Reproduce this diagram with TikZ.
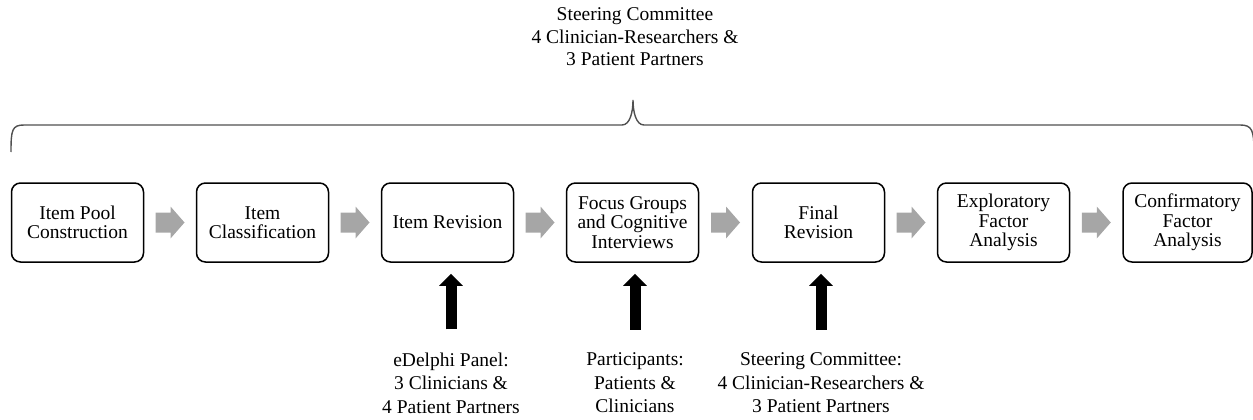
\documentclass[tikz,border=0pt]{standalone}
\usepackage{fontspec}
\setmainfont{Liberation Serif}
\usetikzlibrary{arrows.meta,calc}
\definecolor{arrowgray}{HTML}{A6A6A6}
\definecolor{bracegray}{HTML}{505050}
\tikzset{
  stepbox/.style={draw=black, line width=1.5pt, rounded corners=9pt, minimum width=132pt, minimum height=79pt, inner sep=2pt, align=center, font=\fontsize{19.5}{19.5}\selectfont},
  labeltext/.style={align=center, inner sep=0pt, font=\fontsize{19.5}{23.5}\selectfont},
  toptext/.style={align=center, inner sep=0pt, font=\fontsize{19.5}{22.5}\selectfont},
  bigarrow/.style={line width=11pt, -{Triangle[width=23pt,length=12pt]}, shorten <=23pt, shorten >=11pt},
  bracepath/.style={draw=bracegray, line width=1.4pt},
  grayarrow/.pic={\fill[arrowgray] (-14.5,-10) -- (0.5,-10) -- (0.5,-16) -- (14.5,0) -- (0.5,16) -- (0.5,10) -- (-14.5,10) -- cycle;}
}
\begin{document}
\begin{tikzpicture}[x=1pt,y=-1pt]
\useasboundingbox (0,0) rectangle (1253,420);
% top label and brace
\node[toptext] (top) at (635,37) {Steering Committee\\4 Clinician-Researchers \&\\3 Patient Partners};
\draw[bracepath] (11,152) .. controls (11,130) and (12,125) .. (24,125) -- (622,125)
  .. controls (630,125) and (633,112) .. (633,100)
  .. controls (633,112) and (636,125) .. (644,125) -- (1240,125)
  .. controls (1252,125) and (1254,130) .. (1254,152);
% boxes
\node[stepbox] (b1) at (77.5,222.5) {Item Pool\\Construction};
\node[stepbox] (b2) at (262.5,222.5) {Item\\Classification};
\node[stepbox] (b3) at (447.5,222.5) {Item Revision};
\node[stepbox] (b4) at (632.5,222.5) {Focus Groups\\and Cognitive\\Interviews};
\node[stepbox] (b5) at (818.5,222.5) {Final\\Revision};
\node[stepbox] (b6) at (1003.5,222.5) {Exploratory\\Factor\\Analysis};
\node[stepbox, minimum width=129pt] (b7) at (1187.5,222.5) {Confirmatory\\Factor\\Analysis};
% gray arrows
\pic at ($(b1.east)!0.5!(b2.west)$) {grayarrow};
\pic at ($(b2.east)!0.5!(b3.west)$) {grayarrow};
\pic at ($(b3.east)!0.5!(b4.west)$) {grayarrow};
\pic at ($(b4.east)!0.5!(b5.west)$) {grayarrow};
\pic at ($(b5.east)!0.5!(b6.west)$) {grayarrow};
\pic at ($(b6.east)!0.5!(b7.west)$) {grayarrow};
% bottom labels
\node[labeltext] (l3) at (451,383) {eDelphi Panel:\\3 Clinicians \&\\4 Patient Partners};
\node[labeltext] (l4) at (635,383) {Participants:\\Patients \&\\Clinicians};
\node[labeltext] (l5) at (821,383) {Steering Committee:\\4 Clinician-Researchers \&\\3 Patient Partners};
% black arrows
\draw[bigarrow] (l3.north) -- (l3.north |- b3.south);
\draw[bigarrow] (l4.north) -- (l4.north |- b4.south);
\draw[bigarrow] (l5.north) -- (l5.north |- b5.south);
\end{tikzpicture}
\end{document}
